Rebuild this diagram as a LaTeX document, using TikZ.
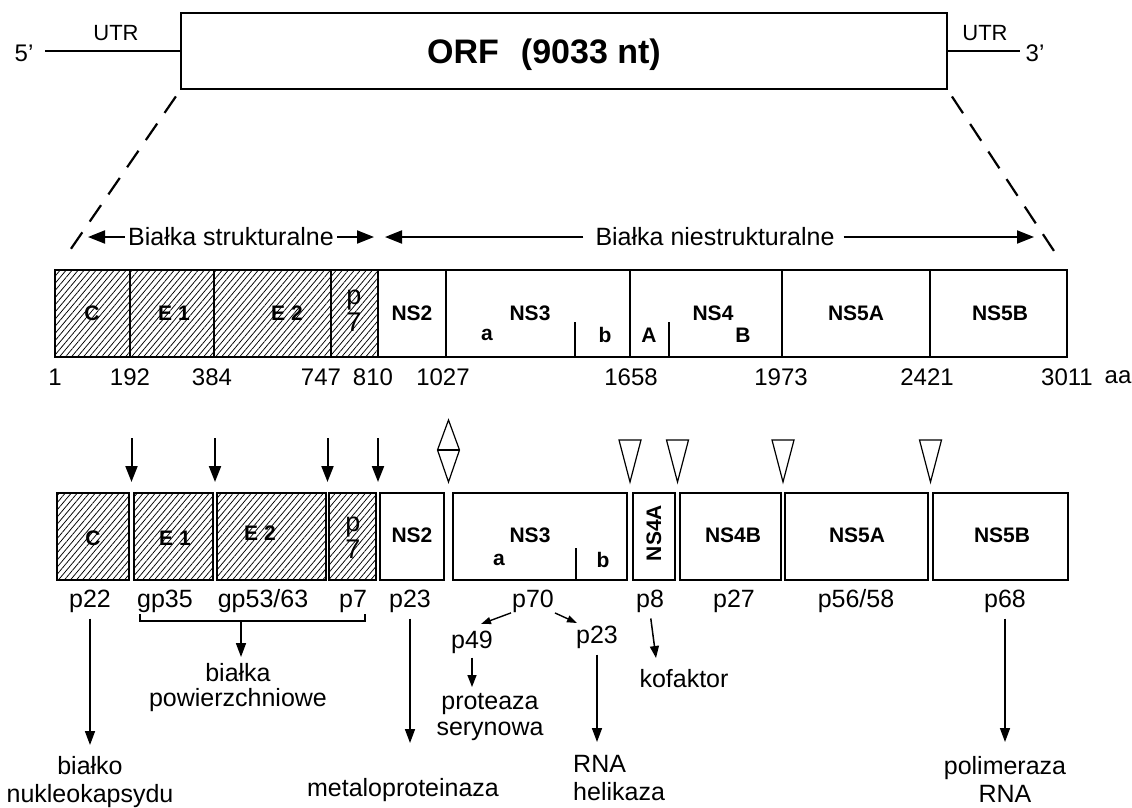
\documentclass[tikz,border=0pt]{standalone}
\usepackage{fontspec}
\setmainfont{Liberation Sans}
\usetikzlibrary{patterns.meta,arrows.meta}
\begin{document}
\begin{tikzpicture}[x=1pt,y=-1pt,
 txt/.style={font=\fontsize{25}{27}\selectfont, inner sep=0pt},
 num/.style={font=\fontsize{24}{26}\selectfont, inner sep=0pt},
 lab/.style={font=\bfseries\fontsize{21}{23}\selectfont, inner sep=0pt},
 pse/.style={font=\fontsize{27}{27}\selectfont, inner sep=0pt},
 bar/.style={draw, line width=2.4pt},
 hatch/.style={pattern={Lines[angle=50,distance=4.6pt,line width=0.75pt]}},
 harr/.style={line width=2pt, -{Triangle[length=17pt,width=13pt]}},
 darr/.style={line width=2pt, -{Triangle[length=16pt,width=12pt]}},
 larr/.style={line width=1.6pt, -{Triangle[length=14pt,width=10pt]}},
 marr/.style={line width=1.5pt, -{Triangle[length=12pt,width=9pt]}},
 sarr/.style={line width=1.4pt, -{Triangle[length=10pt,width=7pt]}},
 tri/.style={draw, line width=1.2pt, line join=miter},
 dashln/.style={line width=2.2pt, dash pattern=on 20pt off 13pt},
]
\useasboundingbox (0,0) rectangle (1132,807);

% ---------- top: genome ----------
\node[draw, line width=2.6pt, minimum width=766pt, minimum height=76pt, inner sep=0pt, outer sep=0pt] (orf) at (564,51) {};
\node[font=\bfseries\fontsize{34}{36}\selectfont, inner sep=0pt] (orft) at (544,55) {ORF\hspace{22pt}(9033 nt)};
\coordinate (e5) at (45,51);
\coordinate (e3) at (1020,51);
\draw[line width=2.6pt] (e5) -- (orf.west);
\draw[line width=2.6pt] (orf.east) -- (e3);
\node[font=\fontsize{24}{26}\selectfont, inner sep=0pt] (p5) at (24,53) {5'};
\node[font=\fontsize{22}{24}\selectfont, inner sep=0pt] (utr1) at (116,33) {UTR};
\node[font=\fontsize{22}{24}\selectfont, inner sep=0pt] (utr2) at (985,33) {UTR};
\node[font=\fontsize{24}{26}\selectfont, inner sep=0pt] (p3) at (1035,53) {3'};

\coordinate (dl) at (66,256);
\coordinate (dr) at (1056,254);
\draw[dashln, shorten <=9pt] (orf.south west) -- (dl);
\draw[dashln, shorten <=9pt] (orf.south east) -- (dr);

% ---------- arrow row ----------
\node[txt, inner sep=3pt] (bs) at (231,237) {Białka strukturalne};
\coordinate (bsl) at (88,237);
\coordinate (bsr) at (374,237);
\draw[harr] (bs.west) -- (bsl);
\draw[harr] (bs.east) -- (bsr);
\node[txt, inner sep=4pt] (bn) at (715,237) {Białka niestrukturalne};
\coordinate (bnl) at (385,237);
\coordinate (bnr) at (1034,237);
\draw[harr, shorten <=8pt] (bn.west) -- (bnl);
\draw[harr, shorten <=5pt] (bn.east) -- (bnr);

% ---------- polyprotein bar ----------
\fill[hatch] (55,270) rectangle (378,357);
\draw[bar] (55,270) rectangle (1067,357);
\foreach \x in {130,214,331,378,446,630,782,930} \draw[bar] (\x,270) -- (\x,357);
\draw[line width=1.8pt] (575,322) -- (575,357);
\draw[line width=1.8pt] (669,322) -- (669,357);

\node[lab] (uC) at (92,313) {C};
\node[lab] (uE1) at (174,313) {E 1};
\node[lab] (uE2) at (287,313) {E 2};
\node[pse] (up) at (354,300) {p};
\node[pse] (u7) at (354,322) {7};
\node[lab] (uNS2) at (412,313) {NS2};
\node[lab] (uNS3) at (530,313) {NS3};
\node[lab] (ua) at (487,335) {a};
\node[lab] (ub) at (605,335) {b};
\node[lab] (uNS4) at (713,313) {NS4};
\node[lab] (uA) at (649,335) {A};
\node[lab] (uB) at (743,335) {B};
\node[lab] (uNS5A) at (856,313) {NS5A};
\node[lab] (uNS5B) at (1000,313) {NS5B};

\node[num] (n1) at (55,377) {1};
\node[num] (n192) at (130,377) {192};
\node[num] (n384) at (212,377) {384};
\node[num] (n747) at (321,377) {747};
\node[num] (n810) at (373,377) {810};
\node[num] (n1027) at (443,377) {1027};
\node[num] (n1658) at (631,377) {1658};
\node[num] (n1973) at (781,377) {1973};
\node[num] (n2421) at (927,377) {2421};
\node[num] (n3011) at (1067,377) {3011};
\node[num] (naa) at (1118,377) {aa};

% ---------- cleavage marks ----------
\foreach \i/\x in {1/131.5,2/215,3/327.5,4/378} {
  \coordinate (ds\i) at (\x,438);
  \coordinate (de\i) at (\x,482);
  \draw[darr] (ds\i) -- (de\i);
}
\foreach \x in {630,677.5,783,930.5}
  \draw[tri] (\x-11,440) -- (\x+11,440) -- (\x,482) -- cycle;
\draw[tri] (448.5,420) -- (459.5,450) -- (448.5,482) -- (437.5,450) -- cycle;
\draw[tri] (437.5,450) -- (459.5,450);

% ---------- mature proteins ----------
\foreach \a/\b in {57/129,134/213,217/326,329/376} \draw[bar,hatch] (\a,493) rectangle (\b,580);
\foreach \a/\b in {380/444,453/627,633/675,680/781,785/928,933/1068} \draw[bar] (\a,493) rectangle (\b,580);
\draw[line width=1.8pt] (576,548) -- (576,580);

\node[lab] (lC) at (93,538) {C};
\node[lab] (lE1) at (175,538) {E 1};
\node[lab] (lE2) at (260,533) {E 2};
\node[pse] (lp) at (353,527) {p};
\node[pse] (l7) at (353,549) {7};
\node[lab] (lNS2) at (412,535) {NS2};
\node[lab] (lNS3) at (530,535) {NS3};
\node[lab] (la) at (499,560) {a};
\node[lab] (lb) at (603,560) {b};
\node[lab, rotate=90] (lNS4A) at (654,533) {NS4A};
\node[lab] (lNS4B) at (733,535) {NS4B};
\node[lab] (lNS5A) at (857,535) {NS5A};
\node[lab] (lNS5B) at (1002,535) {NS5B};

% ---------- protein names ----------
\node[txt] (p22) at (90,601) {p22};
\node[txt] (gp35) at (165,601) {gp35};
\node[txt] (gp53) at (263,601) {gp53/63};
\node[txt] (p7) at (353,601) {p7};
\node[txt] (p23) at (410,601) {p23};
\node[txt] (p70) at (533,601) {p70};
\node[txt] (p8) at (650,601) {p8};
\node[txt] (p27) at (734,601) {p27};
\node[txt] (p56) at (856,601) {p56/58};
\node[txt] (p68) at (1005,601) {p68};

\draw[line width=1.5pt] (140,614) -- (140,621) -- (365,621) -- (365,614);
\coordinate (brk) at (241,621);
\node[txt, align=center, anchor=north, font=\fontsize{25}{25}\selectfont] (bpow) at (238,663) {białka\\powierzchniowe};
\draw[larr, shorten >=6pt] (brk) -- (brk |- bpow.north);

\node[txt, align=center, anchor=north, font=\fontsize{25}{28}\selectfont] (bnuk) at (90,756) {białko\\nukleokapsydu};
\draw[larr, shorten <=6pt, shorten >=11pt] (p22.south) -- (p22.south |- bnuk.north);

\node[txt, anchor=north] (meta) at (403,778) {metaloproteinaza};
\draw[larr, shorten <=6pt, shorten >=35pt] (p23.south) -- (p23.south |- meta.north);

\node[txt] (p49) at (472,642) {p49};
\node[txt] (p23b) at (597,637) {p23};
\coordinate (p70l) at (481,624);
\coordinate (p70r) at (577,623);
\draw[sarr, shorten <=1pt] (p70.south west) -- (p70l);
\draw[sarr, shorten <=1pt] (p70.south east) -- (p70r);

\node[txt, align=center, anchor=north, font=\fontsize{25}{26}\selectfont] (prot) at (490,693) {proteaza\\serynowa};
\draw[marr, shorten <=4pt, shorten >=6pt] (p49.south) -- (p49.south |- prot.north);

\node[txt, align=left, anchor=north west, font=\fontsize{25}{28}\selectfont] (helik) at (573,755) {RNA\\helikaza};
\draw[larr, shorten <=6pt, shorten >=13pt] (p23b.south) -- (p23b.south |- helik.north);

\node[txt, anchor=north] (kof) at (684,669) {kofaktor};
\coordinate (kofa) at (656,658);
\draw[marr, shorten <=6pt] (p8.south) -- (kofa);

\node[txt, align=center, anchor=north, font=\fontsize{25}{28}\selectfont] (pol) at (1005,756) {polimeraza\\RNA};
\draw[larr, shorten <=6pt, shorten >=14pt] (p68.south) -- (p68.south |- pol.north);
\end{tikzpicture}
\end{document}
